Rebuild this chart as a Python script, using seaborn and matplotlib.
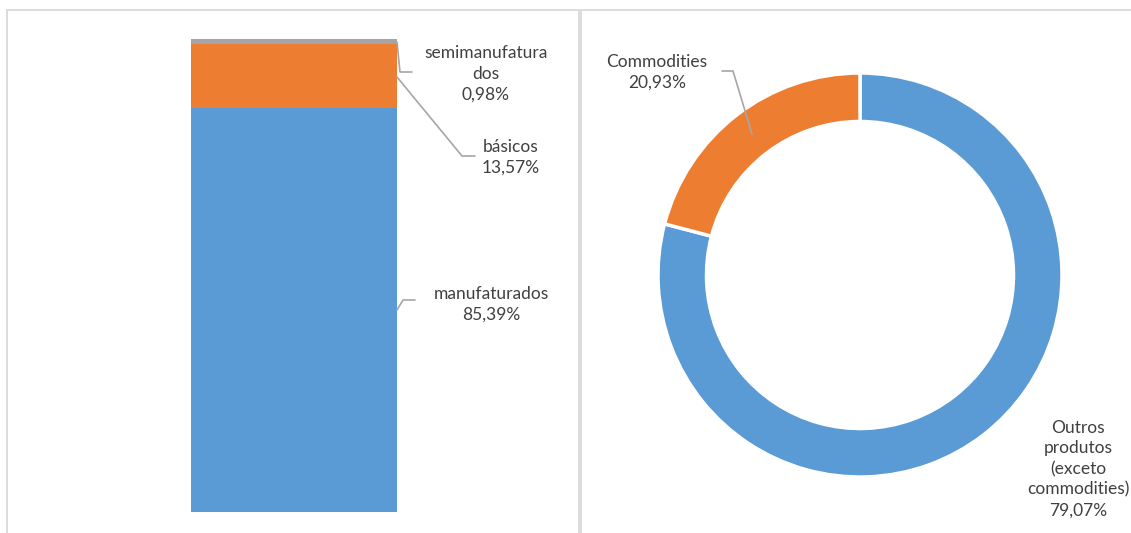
import matplotlib
matplotlib.use("Agg")
import matplotlib.pyplot as plt
from matplotlib.patches import Rectangle
from matplotlib.lines import Line2D
import seaborn as sns
import pandas as pd

# Export composition (stacked bar)
bar_categories = ["manufaturados", "básicos", "semimanufaturados"]
bar_labels = ["manufaturados\n85,39%", "básicos\n13,57%", "semimanufatura\ndos\n0,98%"]
bar_values = [85.39, 13.57, 0.98]
bar_colors = ["#5B9BD5", "#ED7D31", "#A5A5A5"]

# Commodities vs others (donut)
donut_categories = ["Outros produtos (exceto commodities)", "Commodities"]
donut_labels = ["Outros\nprodutos\n(exceto\ncommodities)\n79,07%", "Commodities\n20,93%"]
donut_values = [79.07, 20.93]
donut_colors = ["#5B9BD5", "#ED7D31"]

W, H = 1131, 533
TEXT = "#404040"
LEADER = "#A6A6A6"
BORDER = "#D9D9D9"

sns.set_theme(style="white")
plt.rcParams["font.family"] = ["Lato", "DejaVu Sans"]

fig = plt.figure(figsize=(W / 100, H / 100), dpi=100)
fig.patch.set_facecolor("white")


def fx(x):
    return x / W


def fy(y):
    return 1 - y / H


# panel frames
for x0, x1 in [(7, 579), (581, 1140)]:
    fig.patches.append(Rectangle((fx(x0), fy(545)), fx(x1) - fx(x0), fy(10) - fy(545),
                                 transform=fig.transFigure, fill=False,
                                 edgecolor=BORDER, linewidth=1.3, zorder=0))

# ---- stacked bar ----
ax1 = fig.add_axes([fx(191), fy(512), fx(397) - fx(191), fy(39) - fy(512)])
cum = pd.Series(bar_values).cumsum().tolist()
for top, col in sorted(zip(cum, bar_colors), key=lambda t: -t[0]):
    sns.barplot(x=["total"], y=[top], color=col, saturation=1, width=1.0, ax=ax1,
                linewidth=0)
ax1.set_xlim(-0.5, 0.5)
ax1.set_ylim(0, 100)
ax1.axis("off")

fs = 12.5
label_pos = {"manufaturados": (491, 304), "básicos": (511, 157.5), "semimanufaturados": (486, 74)}
for cat, lab in zip(bar_categories, bar_labels):
    x, y = label_pos[cat]
    fig.text(fx(x), fy(y), lab, ha="center", va="center", fontsize=fs, color=TEXT,
             linespacing=1.35)

leaders_left = [
    [(397, 42), (400, 72), (412, 72)],
    [(397, 77), (462, 156), (475, 156)],
    [(397, 310), (403, 300), (415, 300)],
]
for pts in leaders_left:
    fig.lines.append(Line2D([fx(p[0]) for p in pts], [fy(p[1]) for p in pts],
                            transform=fig.transFigure, color=LEADER, linewidth=1.2))

# ---- donut ----
cx, cy, R = 860, 275, 202
ax2 = fig.add_axes([fx(cx - R), fy(cy + R), fx(2 * R), fy(0) - fy(2 * R)])
ax2.pie(donut_values, colors=donut_colors, startangle=90, counterclock=False,
        wedgeprops=dict(width=0.24, edgecolor="white", linewidth=2.5))
ax2.set_xlim(-1, 1)
ax2.set_ylim(-1, 1)
ax2.set_aspect("equal")

fig.text(fx(657), fy(72), donut_labels[1], ha="center", va="center", fontsize=fs,
         color=TEXT, linespacing=1.35)
fig.text(fx(1078), fy(469), donut_labels[0], ha="center", va="center", fontsize=fs,
         color=TEXT, linespacing=1.35)
pts = [(722, 71), (733, 71), (752, 134)]
fig.lines.append(Line2D([fx(p[0]) for p in pts], [fy(p[1]) for p in pts],
                        transform=fig.transFigure, color=LEADER, linewidth=1.2))

fig.savefig("out.png", dpi=100, facecolor="white")
